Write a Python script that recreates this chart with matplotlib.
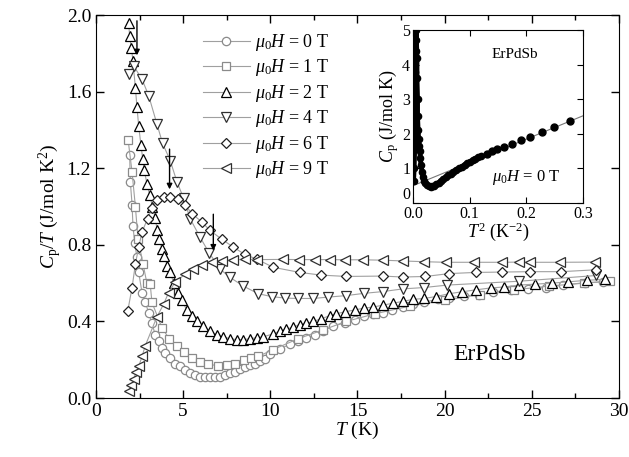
import numpy as np
import matplotlib.pyplot as plt

plt.rcParams['font.family'] = 'Liberation Serif'
plt.rcParams['mathtext.fontset'] = 'custom'
plt.rcParams['mathtext.rm'] = 'Liberation Serif'
plt.rcParams['mathtext.it'] = 'Liberation Serif:italic'
plt.rcParams['mathtext.bf'] = 'Liberation Serif:bold'

# C_p/T vs T for several fields
T0 = [1.93, 1.97, 2.07, 2.12, 2.22, 2.35, 2.45, 2.64, 2.83, 3.02, 3.21, 3.4, 3.59, 3.78,
      3.97, 4.26, 4.54, 4.83, 5.11, 5.4, 5.69, 5.97, 6.26, 6.54, 6.83, 7.11, 7.4, 7.69,
      7.97, 8.26, 8.54, 8.83, 9.12, 9.4, 9.69, 9.97, 10.54, 11.1, 11.59, 12.07, 12.54,
      13.0, 13.59, 14.26, 14.83, 15.4, 15.87, 16.45, 17.0, 17.6, 18.2, 18.8, 19.6, 20.26,
      21.1, 21.97, 22.8, 23.8, 24.8, 25.8, 26.8, 28.07, 29.1]
C0 = [1.27, 1.13, 1.01, 0.90, 0.81, 0.735, 0.656, 0.55, 0.50, 0.446, 0.39, 0.33, 0.296,
      0.26, 0.235, 0.21, 0.18, 0.165, 0.147, 0.133, 0.121, 0.112, 0.109, 0.108, 0.109,
      0.112, 0.121, 0.13, 0.138, 0.15, 0.16, 0.17, 0.18, 0.195, 0.205, 0.23, 0.256, 0.28,
      0.296, 0.314, 0.33, 0.35, 0.375, 0.393, 0.41, 0.43, 0.44, 0.446, 0.46, 0.477, 0.49,
      0.50, 0.516, 0.525, 0.533, 0.54, 0.554, 0.565, 0.572, 0.577, 0.59, 0.603, 0.607]

T1 = [1.84, 2.07, 2.26, 2.41, 2.7, 2.92, 3.11, 3.21, 3.78, 4.2, 4.64, 5.02, 5.5, 5.97,
      6.45, 7.02, 7.5, 7.97, 8.49, 8.9, 9.3, 10.16, 11.6, 13.0, 14.35, 16.0, 18.0, 20.0,
      22.0, 24.0, 26.0, 28.0, 29.5]
C1 = [1.35, 1.18, 1.0, 0.83, 0.70, 0.60, 0.595, 0.50, 0.367, 0.31, 0.27, 0.238, 0.209,
      0.19, 0.177, 0.168, 0.174, 0.18, 0.20, 0.21, 0.217, 0.253, 0.31, 0.355, 0.40, 0.44,
      0.48, 0.51, 0.54, 0.565, 0.585, 0.60, 0.61]

T2 = [1.87, 1.93, 2.03, 2.12, 2.26, 2.35, 2.45, 2.58, 2.68, 2.77, 2.92, 3.08, 3.24, 3.4,
      3.5, 3.63, 3.78, 3.91, 4.1, 4.26, 4.45, 4.68, 4.92, 5.21, 5.5, 5.78, 6.16, 6.54,
      6.93, 7.3, 7.69, 8.07, 8.45, 8.83, 9.21, 9.6, 10.16, 10.54, 10.92, 11.3, 11.69,
      12.07, 12.45, 12.92, 13.4, 13.78, 14.26, 14.83, 15.4, 15.87, 16.45, 17.02, 17.6,
      18.16, 18.8, 19.5, 20.26, 21.0, 21.78, 22.64, 23.4, 24.26, 25.2, 26.16, 27.1,
      28.16, 29.2]
C2 = [1.96, 1.89, 1.83, 1.76, 1.62, 1.52, 1.42, 1.32, 1.25, 1.19, 1.12, 1.06, 1.0, 0.94,
      0.88, 0.83, 0.78, 0.74, 0.69, 0.66, 0.60, 0.55, 0.51, 0.46, 0.43, 0.40, 0.375, 0.35,
      0.33, 0.32, 0.31, 0.305, 0.305, 0.31, 0.315, 0.32, 0.335, 0.35, 0.36, 0.37, 0.384,
      0.39, 0.40, 0.414, 0.43, 0.44, 0.45, 0.46, 0.47, 0.475, 0.485, 0.495, 0.505, 0.515,
      0.52, 0.53, 0.545, 0.555, 0.565, 0.575, 0.58, 0.59, 0.595, 0.60, 0.607, 0.615, 0.62]

T4 = [1.87, 2.16, 2.64, 3.02, 3.5, 3.82, 4.26, 4.64, 5.02, 5.4, 5.97, 6.5, 7.11, 7.69,
      8.45, 9.3, 10.07, 10.83, 11.59, 12.45, 13.3, 14.35, 15.4, 16.45, 17.6, 18.8, 20.16,
      24.26, 28.7]
C4 = [1.69, 1.735, 1.665, 1.58, 1.43, 1.33, 1.24, 1.13, 1.045, 0.937, 0.84, 0.757, 0.674,
      0.63, 0.585, 0.545, 0.53, 0.522, 0.52, 0.52, 0.527, 0.535, 0.547, 0.556, 0.57,
      0.577, 0.59, 0.61, 0.64]

T6 = [1.82, 2.07, 2.26, 2.45, 2.64, 2.96, 3.21, 3.5, 3.88, 4.26, 4.68, 5.11, 5.5, 6.07,
      6.54, 7.21, 7.88, 8.54, 9.21, 10.16, 11.69, 12.92, 14.35, 16.45, 17.6, 18.9, 20.26,
      21.78, 23.3, 24.9, 26.7, 28.7]
C6 = [0.454, 0.577, 0.70, 0.788, 0.867, 0.937, 0.99, 1.033, 1.05, 1.05, 1.04, 1.01, 0.963,
      0.92, 0.875, 0.83, 0.788, 0.75, 0.726, 0.683, 0.656, 0.642, 0.635, 0.637, 0.632,
      0.635, 0.65, 0.656, 0.658, 0.66, 0.66, 0.67]

T9 = [1.87, 2.01, 2.16, 2.31, 2.45, 2.64, 2.83, 3.5, 3.88, 4.16, 4.54, 5.11, 5.59, 6.07,
      6.64, 7.21, 7.88, 8.54, 9.21, 10.73, 11.65, 12.54, 13.4, 14.26, 15.3, 16.45, 17.6,
      18.8, 20.07, 21.7, 23.3, 24.26, 24.9, 26.64, 28.6]
C9 = [0.038, 0.068, 0.10, 0.138, 0.165, 0.217, 0.274, 0.425, 0.49, 0.55, 0.605, 0.647,
      0.674, 0.695, 0.709, 0.717, 0.722, 0.724, 0.723, 0.724, 0.723, 0.723, 0.723, 0.722,
      0.722, 0.72, 0.716, 0.712, 0.709, 0.709, 0.709, 0.71, 0.709, 0.709, 0.71]

fields = [0, 1, 2, 4, 6, 9]
markers = ['o', 's', '^', 'v', 'D', '<']
edges = ['#8a8a8a', '#8a8a8a', 'black', '#303030', '#202020', '#303030']
sizes = [6, 6, 7, 7, 5.2, 7]
series = [(T0, C0), (T1, C1), (T2, C2), (T4, C4), (T6, C6), (T9, C9)]

# arrows marking the transitions: (T, start, end)
arrows = [(2.35, 1.97, 1.79), (4.22, 1.30, 1.09), (6.73, 0.96, 0.77)]

# inset: C_p vs T^2 at zero field
T2_in = [0.001, 0.002, 0.003, 0.003, 0.004, 0.004, 0.005, 0.005, 0.006, 0.006, 0.007,
         0.007, 0.008, 0.008, 0.009, 0.010, 0.011, 0.012, 0.013, 0.014, 0.016, 0.018,
         0.020, 0.022, 0.025, 0.028, 0.031, 0.034, 0.037, 0.041, 0.045, 0.049, 0.053,
         0.058, 0.062, 0.067, 0.071, 0.076, 0.081, 0.086, 0.091, 0.096, 0.100, 0.105,
         0.110, 0.115, 0.120]
Cp_in = [0.65, 1.0, 1.6, 2.4, 3.0, 3.8, 4.4, 5.0, 5.2, 4.7, 4.2, 3.6, 3.0, 2.5, 2.1,
         1.85, 1.65, 1.5, 1.3, 1.1, 0.9, 0.75, 0.65, 0.58, 0.52, 0.48, 0.47, 0.48, 0.50,
         0.54, 0.58, 0.63, 0.68, 0.74, 0.80, 0.85, 0.90, 0.95, 1.00, 1.05, 1.10, 1.15,
         1.19, 1.23, 1.28, 1.32, 1.36]
T2_dots = [0.130, 0.139, 0.149, 0.161, 0.174, 0.190, 0.206, 0.227, 0.249, 0.277]
Cp_dots = [1.43, 1.49, 1.56, 1.63, 1.71, 1.81, 1.91, 2.05, 2.20, 2.38]
fit_x = [0.0, 0.3]
fit_y = [0.50, 2.52]

fig = plt.figure(figsize=(6.29, 4.57), dpi=100)
ax = fig.add_axes([0.1526, 0.129, 0.8315, 0.838])

for (t, c), h, m, ec, ms in zip(series, fields, markers, edges, sizes):
    ax.plot(t, c, color='#a0a0a0', lw=0.8, marker=m, ms=ms, mfc='white', mec=ec,
            mew=0.9, label=r'$\mu_0H$ = %d T' % h)

for t, y1, y2 in arrows:
    ax.annotate('', xy=(t, y2), xytext=(t, y1),
                arrowprops=dict(arrowstyle='-|>', color='black', lw=1.0,
                                mutation_scale=8, shrinkA=0, shrinkB=0))

ax.set_xlim(0, 30)
ax.set_ylim(0, 2.0)
ax.set_xticks(np.arange(0, 31, 5))
ax.set_xticks(np.arange(0, 30, 2.5), minor=True)
ax.set_yticks(np.arange(0, 2.01, 0.4))
ax.set_yticklabels(['%.1f' % v for v in np.arange(0, 2.01, 0.4)])
ax.tick_params(which='both', direction='in', top=True, right=True, labelsize=14)
ax.tick_params(which='major', length=6, width=1)
ax.tick_params(which='minor', length=3.5, width=1)
ax.set_xlabel(r'$T$ (K)', fontsize=14, labelpad=0)
ax.set_ylabel(r'$C_{\rm p}/T$ (J/mol K$^2$)', fontsize=14, labelpad=2)
ax.text(22.6, 0.23, 'ErPdSb', fontsize=17, ha='center', va='center')

ax.legend(loc='upper left', bbox_to_anchor=(0.19, 0.975), frameon=False, fontsize=13,
          handlelength=2.6, labelspacing=0.25, handletextpad=0.3, borderaxespad=0)

ins = fig.add_axes([0.6566, 0.5558, 0.2703, 0.3786])
ins.plot(fit_x, fit_y, color='#777777', lw=0.8)
ins.plot(T2_in, Cp_in, '-o', color='black', lw=3.5, ms=4.5)
ins.plot(T2_dots, Cp_dots, 'o', color='black', ms=5)
ins.set_xlim(0, 0.3)
ins.set_ylim(0, 5)
ins.set_xticks([0, 0.1, 0.2, 0.3])
ins.set_xticklabels(['0.0', '0.1', '0.2', '0.3'])
ins.set_yticks(range(6))
ins.tick_params(direction='in', top=True, right=True, labelsize=11.5, length=4)
ins.tick_params(axis='x', pad=2)
ins.tick_params(axis='y', pad=2)
ins.get_yticklabels()[0].set_verticalalignment('bottom')
ins.set_xlabel(r'$T^2$ (K$^{-2}$)', fontsize=13, labelpad=-1)
ins.set_ylabel(r'$C_{\rm p}$ (J/mol K)', fontsize=13, labelpad=1)
ins.text(0.18, 4.3, 'ErPdSb', fontsize=11, ha='center', va='center')
ins.text(0.2, 0.75, r'$\mu_0H$ = 0 T', fontsize=12, ha='center', va='center')

fig.savefig('out.png', dpi=100)
